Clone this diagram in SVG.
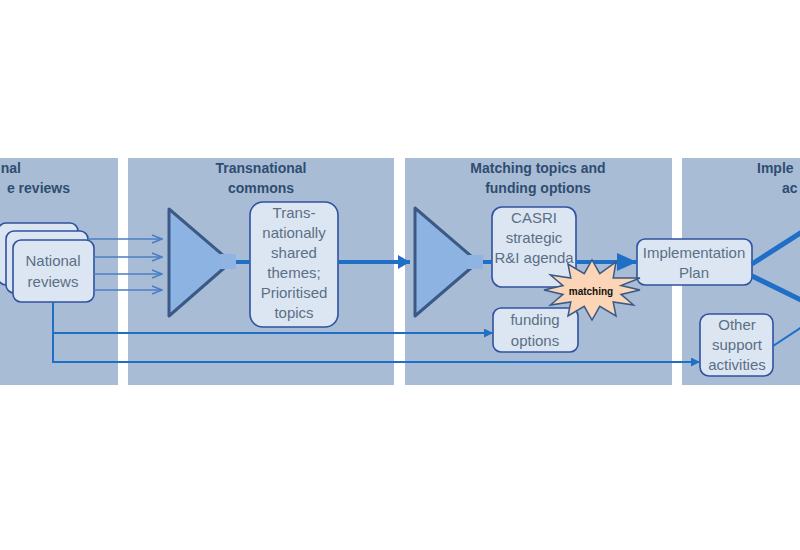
<svg xmlns="http://www.w3.org/2000/svg" width="800" height="550" viewBox="0 0 800 550">
<style>
.panel{fill:#a9bcd6;}
.title{font-family:"Liberation Sans",Arial,sans-serif;font-weight:bold;font-size:14px;fill:#2f4d70;text-anchor:middle;}
.box{fill:#dce6f2;stroke:#2f52a0;stroke-width:1.6;}
.txt{font-family:"Liberation Sans",Arial,sans-serif;font-size:15px;fill:#5b6f86;text-anchor:middle;}
.tri{fill:#8db3e2;stroke:#3a5a85;stroke-width:3;stroke-linejoin:round;}
.stub{fill:#8fb4e3;}
.thin{stroke:#4a7ec4;stroke-width:1.5;fill:none;}
.mid{stroke:#1f6fc6;stroke-width:2;fill:none;}
.thick{stroke:#1f6fc6;stroke-width:4;fill:none;}
.fat{stroke:#1f6fc6;stroke-width:5;fill:none;}
</style>
<defs>
<marker id="open" markerUnits="userSpaceOnUse" markerWidth="12" markerHeight="10" refX="11" refY="5" orient="auto">
<path d="M1,1 L11,5 L1,9" fill="none" stroke="#4a7ec4" stroke-width="1.5"/>
</marker>
<marker id="big" markerUnits="userSpaceOnUse" markerWidth="20" markerHeight="18" refX="20" refY="9" orient="auto">
<path d="M0,0 L20,9 L0,18 Z" fill="#1f6fc6"/>
</marker>
<marker id="med" markerUnits="userSpaceOnUse" markerWidth="12" markerHeight="14" refX="12" refY="7" orient="auto">
<path d="M0,0 L12,7 L0,14 Z" fill="#1f6fc6"/>
</marker>
<marker id="small" markerUnits="userSpaceOnUse" markerWidth="9" markerHeight="9" refX="9" refY="4.5" orient="auto">
<path d="M0,0 L9,4.5 L0,9 Z" fill="#1f6fc6"/>
</marker>
</defs>
<rect width="800" height="550" fill="#ffffff"/>

<g id="panel1">
<rect class="panel" x="-10" y="158" width="128" height="227"/>
<text class="title" x="21" y="173" style="text-anchor:end">nal</text>
<text class="title" x="70" y="193" style="text-anchor:end">e reviews</text>
</g>
<g id="panel2">
<rect class="panel" x="128" y="158" width="266" height="227"/>
<text class="title" x="261" y="173">Transnational</text>
<text class="title" x="261" y="193">commons</text>
</g>
<g id="panel3">
<rect class="panel" x="405" y="158" width="267" height="227"/>
<text class="title" x="538" y="173">Matching topics and</text>
<text class="title" x="538" y="193">funding options</text>
</g>
<g id="panel4">
<rect class="panel" x="682" y="158" width="130" height="227"/>
<text class="title" x="757" y="173" style="text-anchor:start">Imple</text>
<text class="title" x="782" y="193" style="text-anchor:start">ac</text>
</g>

<g id="national-reviews">
<rect class="box" x="-2" y="223" width="80" height="62" rx="8"/>
<rect class="box" x="6" y="231" width="82" height="62" rx="8"/>
<rect class="box" x="13" y="240" width="81" height="62" rx="8"/>
<text class="txt" x="53" y="266">National</text>
<text class="txt" x="53" y="287">reviews</text>
</g>

<g id="funnel1">
<polygon class="tri" points="169,209 231,262 169,316"/>
<rect class="stub" x="220" y="254" width="16" height="15"/>
</g>

<g id="shared-themes">
<rect class="box" x="250" y="202" width="88" height="125" rx="13"/>
<text class="txt" x="294" y="218">Trans-</text>
<text class="txt" x="294" y="238">nationally</text>
<text class="txt" x="294" y="258">shared</text>
<text class="txt" x="294" y="278">themes;</text>
<text class="txt" x="294" y="298">Prioritised</text>
<text class="txt" x="294" y="318">topics</text>
</g>

<g id="funnel2">
<polygon class="tri" points="415,208 478,262 415,316"/>
<rect class="stub" x="468" y="255" width="15" height="14"/>
</g>

<g id="casri">
<rect class="box" x="492" y="207" width="84" height="80" rx="10"/>
<text class="txt" x="534" y="223">CASRI</text>
<text class="txt" x="534" y="243">strategic</text>
<text class="txt" x="534" y="263">R&amp;I agenda</text>
</g>

<g id="funding-options">
<rect class="box" x="493" y="308" width="85" height="44" rx="8"/>
<text class="txt" x="535" y="325">funding</text>
<text class="txt" x="535" y="346">options</text>
</g>

<g id="implementation-plan">
<rect class="box" x="637" y="239" width="115" height="46" rx="8"/>
<text class="txt" x="694" y="258">Implementation</text>
<text class="txt" x="694" y="278">Plan</text>
</g>

<g id="other-support">
<rect class="box" x="700" y="314" width="73" height="62" rx="9"/>
<text class="txt" x="737" y="330">Other</text>
<text class="txt" x="737" y="350">support</text>
<text class="txt" x="737" y="370">activities</text>
</g>

<g id="connectors">
<line class="thin" x1="88" y1="239" x2="162" y2="239" marker-end="url(#open)"/>
<line class="thin" x1="94" y1="257" x2="162" y2="257" marker-end="url(#open)"/>
<line class="thin" x1="94" y1="274" x2="162" y2="274" marker-end="url(#open)"/>
<line class="thin" x1="94" y1="290" x2="162" y2="290" marker-end="url(#open)"/>
<line class="thick" x1="236" y1="262" x2="250" y2="262"/>
<line class="thick" x1="338" y1="262" x2="410" y2="262" marker-end="url(#med)"/>
<line class="thick" x1="483" y1="262" x2="492" y2="262"/>
<line class="thick" x1="576" y1="262" x2="637" y2="262" marker-end="url(#big)"/>
<path class="mid" d="M53,302 V362 H700" marker-end="url(#small)"/>
<path class="mid" d="M53,333 H493" marker-end="url(#small)"/>
<line class="fat" x1="752" y1="264" x2="805" y2="230"/>
<line class="fat" x1="752" y1="276" x2="805" y2="302"/>
<line class="mid" x1="773" y1="346" x2="805" y2="325"/>
</g>

<g id="matching">
<polygon points="640,290 621,294.4 633.6,305 613.2,302 616,316 599.8,306.4 592,320 584.2,306.4 568,316 570.8,302 550.4,305 563,294.4 544,290 563,285.6 550.4,275 570.8,278 568,264 584.2,273.6 592,260 599.8,273.6 616,262 613.2,278 640,278 621,285.6" fill="#fbd5b5" stroke="#3a5a85" stroke-width="1.5" stroke-linejoin="miter"/>
<text x="591" y="295" font-family="Liberation Sans, Arial, sans-serif" font-size="10" font-weight="bold" fill="#111111" text-anchor="middle">matching</text>
</g>
</svg>
